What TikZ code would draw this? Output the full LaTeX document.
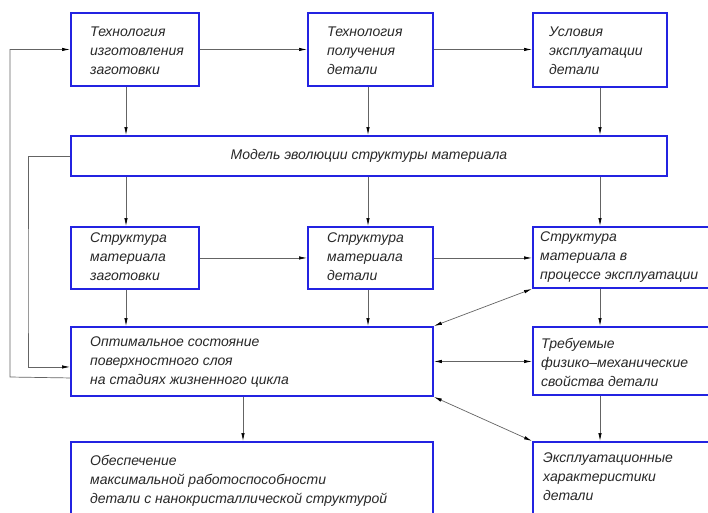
\documentclass[tikz,border=0pt]{standalone}
\usepackage{fontspec}
\setmainfont{Liberation Sans}
\usetikzlibrary{arrows.meta}
\definecolor{bx}{RGB}{35,35,225}
\definecolor{ln}{RGB}{100,100,100}
\definecolor{tx}{RGB}{40,40,40}
\begin{document}
\begin{tikzpicture}[x=1pt,y=-1pt,
  box/.style={draw=bx, line width=1.9pt, fill=white, anchor=north west, inner sep=0pt},
  txt/.style={anchor=west, align=left, inner sep=0pt, text=tx, font=\itshape\fontsize{14}{19}\selectfont},
  arr/.style={draw=ln, line width=0.7pt, -{Latex[length=8pt,width=3.4pt,color=black]}},
  dbl/.style={draw=ln, line width=0.7pt, {Latex[length=8pt,width=3.4pt,color=black]}-{Latex[length=8pt,width=3.4pt,color=black]}},
  ln/.style={draw=ln, line width=0.7pt}
]
\useasboundingbox (0,0) rectangle (708,512);
\clip (0,0) rectangle (708,512);
\fill[white] (0,0) rectangle (708,512);

% boxes
\node[box, minimum width=128, minimum height=73] (A1) at (70,12) {};
\node[box, minimum width=125, minimum height=73] (B1) at (307,12) {};
\node[box, minimum width=134, minimum height=74] (C1) at (532,12) {};
\node[box, minimum width=596, minimum height=40, font=\itshape\fontsize{14}{19}\selectfont, text=tx] (M) at (70,135) {Модель эволюции структуры материала};
\node[box, minimum width=128, minimum height=62] (A3) at (70,226) {};
\node[box, minimum width=125, minimum height=62] (B3) at (307,226) {};
\node[box, minimum width=190, minimum height=61] (C3) at (532,226) {};
\node[box, minimum width=362, minimum height=69] (O) at (70,326) {};
\node[box, minimum width=190, minimum height=68] (R) at (532,326) {};
\node[box, minimum width=362, minimum height=80] (E) at (70,441) {};
\node[box, minimum width=190, minimum height=72] (K) at (532,441) {};

% texts
\node[txt] (tA1) at (90,51) {Технология\\изготовления\\заготовки};
\node[txt] (tB1) at (327,51) {Технология\\получения\\детали};
\node[txt] (tC1) at (549,51) {Условия\\эксплуатации\\детали};
\node[txt] (tA3) at (90,257) {Структура\\материала\\заготовки};
\node[txt] (tB3) at (327,257) {Структура\\материала\\детали};
\node[txt] (tC3) at (540,257) {Структура\\материала в\\процессе эксплуатации};
\node[txt] (tO) at (90,362) {Оптимальное состояние\\поверхностного слоя\\на стадиях жизненного цикла};
\node[txt] (tR) at (541,362) {Требуемые\\физико–механические\\свойства детали};
\node[txt] (tE) at (90,481) {Обеспечение\\максимальной работоспособности\\детали с нанокристаллической структурой};
\node[txt] (tK) at (543,477) {Эксплуатационные\\характеристики\\детали};

% column coordinates
\coordinate (c1) at (126,0);
\coordinate (c2) at (368,0);
\coordinate (c3) at (600,0);
\coordinate (c4) at (243,0);
\coordinate (fb1) at (10,377);
\coordinate (fb2) at (28,300);

% horizontal arrows
\draw[arr] (A1.east) -- (A1.east -| B1.west);
\draw[arr] (B1.east) -- (B1.east -| C1.west);
\draw[arr] (A3.east) -- (A3.east -| B3.west);
\draw[arr] (B3.east) -- (B3.east -| C3.west);

% vertical arrows
\draw[arr] (A1.south -| c1) -- (M.north -| c1);
\draw[arr] (B1.south -| c2) -- (M.north -| c2);
\draw[arr] (C1.south -| c3) -- (M.north -| c3);
\draw[arr] (M.south -| c1) -- (A3.north -| c1);
\draw[arr] (M.south -| c2) -- (B3.north -| c2);
\draw[arr] (M.south -| c3) -- (C3.north -| c3);
\draw[arr] (A3.south -| c1) -- (O.north -| c1);
\draw[arr] (B3.south -| c2) -- (O.north -| c2);
\draw[arr] (C3.south -| c3) -- (R.north -| c3);
\draw[arr] (R.south -| c3) -- (K.north -| c3);
\draw[arr] (O.south -| c4) -- (E.north -| c4);

% double arrows
\draw[dbl] (O.north east) -- (C3.south west);
\draw[dbl] (O.east) -- (O.east -| R.west);
\draw[dbl] (O.south east) -- (K.north west);

% feedback lines
\draw[arr] ([yshift=-16.5pt]O.west) -- (fb1) |- (A1.west);
\draw[arr] (M.west) -| (fb2) |- ([yshift=-5.5pt]O.west);
\end{tikzpicture}
\end{document}
